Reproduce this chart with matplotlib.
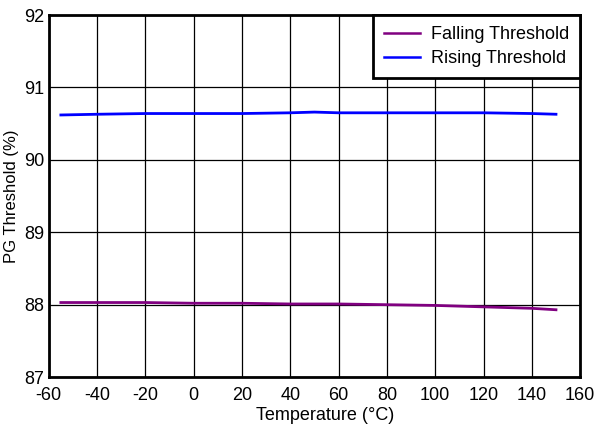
import matplotlib
matplotlib.use("Agg")
import matplotlib.pyplot as plt

plt.rcParams['font.family'] = ['Liberation Sans', 'DejaVu Sans']
plt.rcParams['axes.unicode_minus'] = False

# ── Data ──
temp_falling = [-55, -40, -20, 0, 20, 40, 60, 80, 100, 120, 140, 150]
falling      = [88.03, 88.03, 88.03, 88.02, 88.02, 88.01, 88.01, 88.00, 87.99, 87.97, 87.95, 87.93]

temp_rising  = [-55, -40, -20, 0, 20, 40, 50, 60, 80, 100, 120, 140, 150]
rising       = [90.62, 90.63, 90.64, 90.64, 90.64, 90.65, 90.66, 90.65, 90.65, 90.65, 90.65, 90.64, 90.63]

x_ticks = list(range(-60, 161, 20))
y_ticks = [87, 88, 89, 90, 91, 92]

fig = plt.figure(figsize=(5.95, 4.3), dpi=100)
ax = fig.add_axes([0.082, 0.123, 0.893, 0.842])

ax.plot(temp_falling, falling, color="#800080", lw=2, label="Falling Threshold")
ax.plot(temp_rising, rising, color="#0000ff", lw=2, label="Rising Threshold")

ax.set_xlim(-60, 160)
ax.set_ylim(87, 92)
ax.set_xticks(x_ticks)
ax.set_yticks(y_ticks)
ax.grid(True, color="black", lw=0.9)
ax.set_axisbelow(True)

for s in ax.spines.values():
    s.set_linewidth(2)
    s.set_color("black")

ax.tick_params(axis="y", direction="in", length=0, labelsize=13, pad=3)
ax.tick_params(axis="x", direction="in", length=0, labelsize=13, pad=7)
ax.set_xlabel("Temperature (°C)", fontsize=13, labelpad=3)
ax.xaxis.set_label_coords(0.52, -0.083)
ax.set_ylabel("PG Threshold (%)", fontsize=12, labelpad=4)

leg = ax.legend(loc="upper right", fontsize=13, fancybox=False, framealpha=1,
                edgecolor="black", borderaxespad=0, handlelength=2.0,
                labelspacing=0.4, borderpad=0.6, handletextpad=0.6)
leg.get_frame().set_linewidth(2)
for line in leg.get_lines():
    line.set_linewidth(1.8)

fig.savefig("out.png", dpi=100)
